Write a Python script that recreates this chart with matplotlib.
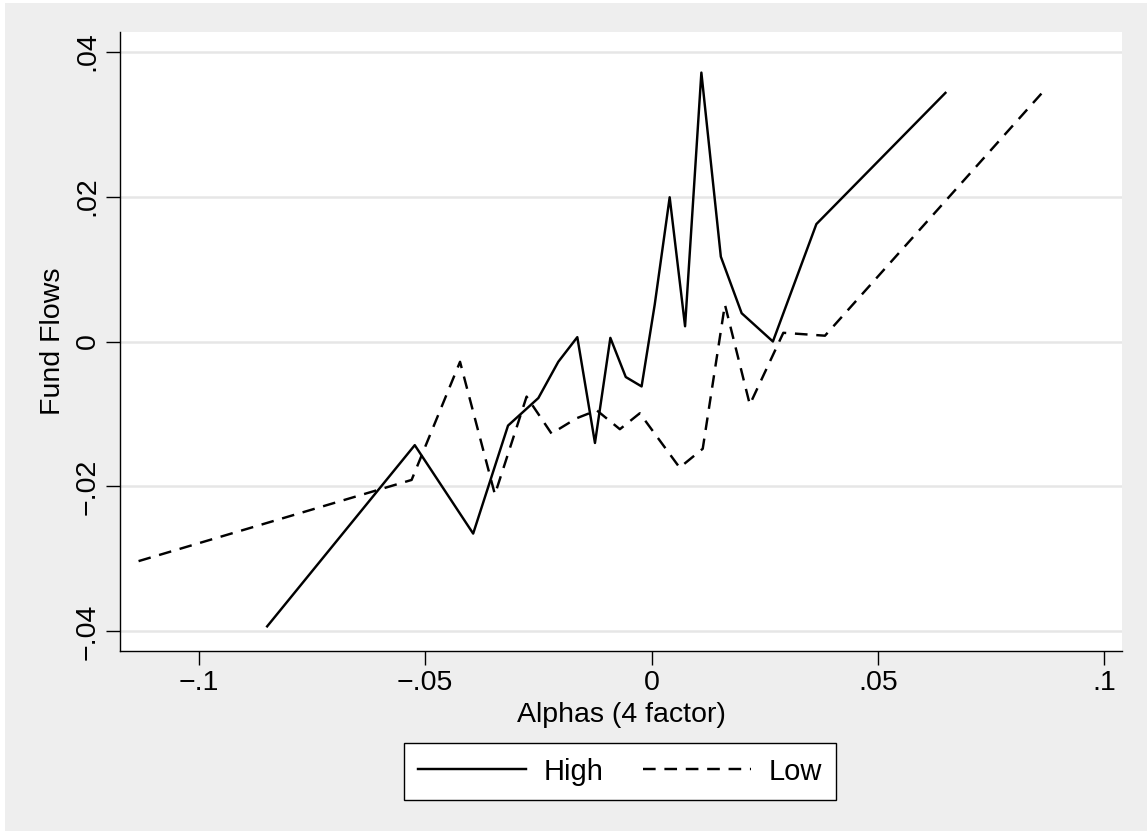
#!/usr/bin/env python3

import matplotlib
matplotlib.use('Agg')
import matplotlib.pyplot as plt
from matplotlib.patches import Rectangle

# values
high_x = [-0.0849, -0.0523, -0.0394, -0.0317, -0.0250, -0.0206, -0.0164, -0.0125, -0.0091, -0.0057,
	-0.0022, 0.0007, 0.0040, 0.0074, 0.0110, 0.0153, 0.0199, 0.0268, 0.0364, 0.0649]
high_y = [-0.0393, -0.0143, -0.0265, -0.0116, -0.0078, -0.0028, 0.0006, -0.0140, 0.0005, -0.0049,
	-0.0062, 0.0051, 0.0199, 0.0021, 0.0371, 0.0117, 0.0039, 0.0000, 0.0162, 0.0343]

low_x = [-0.1133, -0.0530, -0.0423, -0.0346, -0.0276, -0.0221, -0.0166, -0.0121, -0.0070, -0.0026,
	0.0062, 0.0113, 0.0162, 0.0217, 0.0291, 0.0383, 0.0861]
low_y = [-0.0303, -0.0191, -0.0028, -0.0211, -0.0076, -0.0127, -0.0106, -0.0095, -0.0121, -0.0099,
	-0.0174, -0.0148, 0.0051, -0.0087, 0.0012, 0.0008, 0.0342]

x_ticks = [-0.1, -0.05, 0, 0.05, 0.1]
x_labels = ['\u2212.1', '\u2212.05', '0', '.05', '.1']
y_ticks = [-0.04, -0.02, 0, 0.02, 0.04]
y_labels = ['\u2212.04', '\u2212.02', '0', '.02', '.04']

plt.rcParams['font.family'] = ['Liberation Sans', 'DejaVu Sans']

bg = '#eeeeee'
fig = plt.figure(figsize=(11.47, 8.34), dpi=100, facecolor='white')
fig.patches.append(Rectangle((5 / 1147, 3 / 834), 1 - 5 / 1147, 1 - 6 / 834,
	transform=fig.transFigure, facecolor=bg, edgecolor='none', zorder=-10))

ax = fig.add_axes([120 / 1147, 1 - 651 / 834, 1002 / 1147, 619 / 834])
ax.set_facecolor('white')

ax.plot(high_x, high_y, color='black', lw=1.75, label='High')
ax.plot(low_x, low_y, color='black', lw=1.75, dashes=(5.2, 3.6), label='Low')

ax.set_xlim(-0.1174, 0.1039)
ax.set_ylim(-0.0427, 0.0427)

ax.set_xticks(x_ticks)
ax.set_xticklabels(x_labels)
ax.set_yticks(y_ticks)
ax.set_yticklabels(y_labels, rotation=90, va='center')

ax.tick_params(axis='both', direction='out', length=10, width=1, color='black',
	labelsize=20.5, pad=4)
ax.tick_params(axis='y', pad=4)

ax.grid(axis='y', color='#e6e6e6', lw=1.8)
ax.set_axisbelow(True)

for s in ['top', 'right']:
	ax.spines[s].set_visible(False)
for s in ['left', 'bottom']:
	ax.spines[s].set_color('black')
	ax.spines[s].set_linewidth(1)

ax.set_xlabel('Alphas (4 factor)', fontsize=20.5, labelpad=4)
ax.set_ylabel('Fund Flows', fontsize=20.5, labelpad=6)

leg = fig.legend(loc='center', bbox_to_anchor=(620 / 1147, 1 - 771.5 / 834), ncol=2,
	fontsize=21, frameon=True, fancybox=False, handlelength=3.7, handletextpad=0.6,
	columnspacing=1.35, borderpad=0.5)
leg.get_frame().set_edgecolor('black')
leg.get_frame().set_linewidth(1)
leg.get_frame().set_facecolor('white')
leg.get_frame().set_alpha(1)

fig.savefig('out.png', dpi=100, facecolor=fig.get_facecolor())
